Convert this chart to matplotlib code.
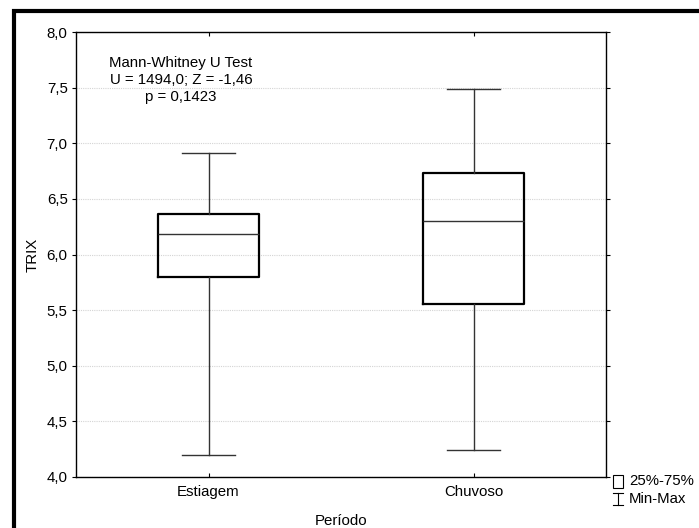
import matplotlib
matplotlib.use("Agg")
import matplotlib.pyplot as plt
from matplotlib.patches import Rectangle

plt.rcParams["font.family"] = ["Liberation Sans", "DejaVu Sans"]

# dados
periodos = ["Estiagem", "Chuvoso"]
minimo = [4.20, 4.24]
q1 = [5.80, 5.555]
mediana = [6.18, 6.30]
q3 = [6.36, 6.735]
maximo = [6.915, 7.49]

yticks = [4.0, 4.5, 5.0, 5.5, 6.0, 6.5, 7.0, 7.5, 8.0]
texto_teste = "Mann-Whitney U Test\nU = 1494,0; Z = -1,46\np = 0,1423"

fs = 10.8

fig = plt.figure(figsize=(6.99, 5.28), dpi=100)
ax = fig.add_axes([76 / 699, 1 - 477 / 528, 530 / 699, 445 / 528])

stats = []
for i, nome in enumerate(periodos):
    stats.append({"label": nome, "med": mediana[i], "q1": q1[i], "q3": q3[i],
                  "whislo": minimo[i], "whishi": maximo[i], "fliers": []})

ax.bxp(stats, positions=[1, 2], widths=0.38, showfliers=False,
       boxprops=dict(color="black", linewidth=1.6),
       medianprops=dict(color="#333333", linewidth=1.0),
       whiskerprops=dict(color="#333333", linewidth=1.0),
       capprops=dict(color="#333333", linewidth=1.0),
       capwidths=0.2)

ax.set_xlim(0.5, 2.5)
ax.set_ylim(4.0, 8.0)
ax.set_yticks(yticks)
ax.set_yticklabels([f"{v:.1f}".replace(".", ",") for v in yticks], fontsize=fs)
ax.set_xticks([1, 2])
ax.set_xticklabels(periodos, fontsize=fs)
ax.yaxis.grid(True, linestyle=(0, (1, 1)), color="#d4d4d4", linewidth=0.8)
ax.set_axisbelow(True)
ax.tick_params(axis="y", direction="out", length=3, width=0.8, right=True, pad=3)
ax.tick_params(axis="x", direction="in", length=3, width=0.8, top=True, pad=6)
for s in ax.spines.values():
    s.set_linewidth(1.0)
    s.set_color("black")

ax.set_ylabel("TRIX", fontsize=fs, labelpad=5)
ax.set_xlabel("Período", fontsize=fs, labelpad=10.5)

# texto do teste
fig.text(181 / 699, 1 - 80 / 528, texto_teste, fontsize=fs, ha="center",
         va="center", multialignment="center", linespacing=1.3)

# legenda
fig.patches.append(Rectangle((613 / 699, 1 - 488 / 528), 10 / 699, 13 / 528,
                             transform=fig.transFigure, fill=False,
                             edgecolor="black", linewidth=0.8))
fig.text(629 / 699, 1 - 481 / 528, "25%-75%", fontsize=fs, va="center")
fig.text(629 / 699, 1 - 499 / 528, "Min-Max", fontsize=fs, va="center")
lx = 618 / 699
fig.lines.append(plt.Line2D([lx, lx], [1 - 493 / 528, 1 - 505 / 528],
                            transform=fig.transFigure, color="black", lw=0.8))
for yy in [493, 505]:
    fig.lines.append(plt.Line2D([613 / 699, 623 / 699], [1 - yy / 528, 1 - yy / 528],
                                transform=fig.transFigure, color="black", lw=0.8))

# moldura externa
fig.patches.append(Rectangle((13.5 / 699, -0.1), 1.2, 1 - 11.5 / 528 + 0.1,
                             transform=fig.transFigure, fill=False,
                             edgecolor="black", linewidth=3))

fig.savefig("out.png", dpi=100)
